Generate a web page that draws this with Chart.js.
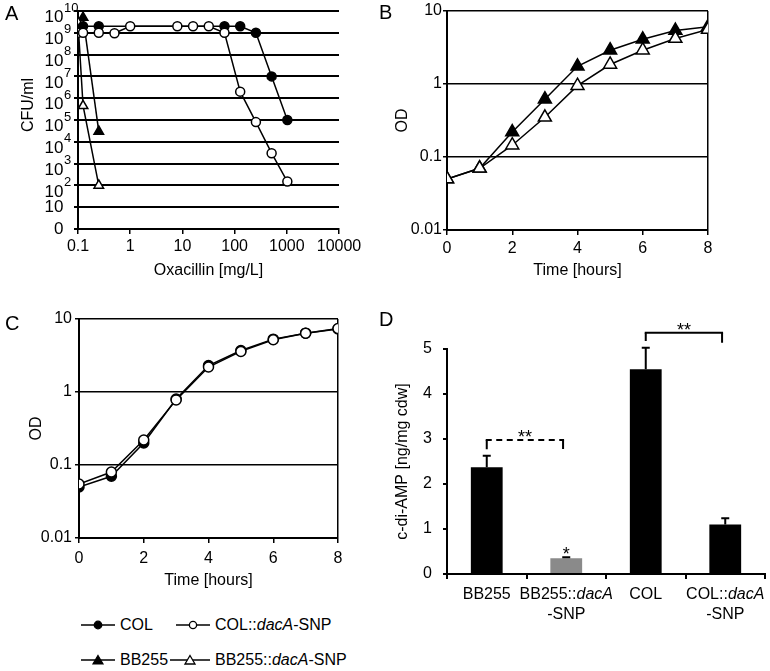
<!DOCTYPE html>
<html><head><meta charset="utf-8">
<script src="https://cdn.jsdelivr.net/npm/chart.js@4.4.1/dist/chart.umd.min.js"></script>
<style>
html,body{margin:0;padding:0;background:#fff;}
#wrap{position:relative;width:770px;height:671px;background:#fff;overflow:hidden;font-family:"Liberation Sans",Arial,sans-serif;color:#000;}
canvas{position:absolute;}
.pl{position:absolute;font-size:20px;line-height:20px;}
.leg{position:absolute;font-size:16px;line-height:20px;white-space:nowrap;}
.sym{position:absolute;}
</style></head><body>
<div id="wrap">
<canvas id="cA" width="380" height="300" style="left:0;top:0;width:380px;height:300px"></canvas>
<canvas id="cB" width="390" height="300" style="left:380px;top:0;width:390px;height:300px"></canvas>
<canvas id="cC" width="380" height="300" style="left:0;top:300px;width:380px;height:300px"></canvas>
<canvas id="cD" width="390" height="340" style="left:380px;top:300px;width:390px;height:340px"></canvas>
<div class="pl" style="left:5px;top:3px">A</div>
<div class="pl" style="left:379px;top:2px">B</div>
<div class="pl" style="left:5px;top:313px">C</div>
<div class="pl" style="left:379px;top:309px">D</div>

<svg class="sym" style="left:81px;top:615px" width="34" height="20"><line x1="0" y1="10" x2="34" y2="10" stroke="#000" stroke-width="1.5"/><circle cx="17" cy="10" r="3.8" fill="#000" stroke="#000" stroke-width="1.2"/></svg>
<div class="leg" style="left:120px;top:615px">COL</div>
<svg class="sym" style="left:176px;top:615px" width="34" height="20"><line x1="0" y1="10" x2="34" y2="10" stroke="#000" stroke-width="1.5"/><circle cx="17" cy="10" r="3.6" fill="#fff" stroke="#000" stroke-width="1.3"/></svg>
<div class="leg" style="left:215px;top:615px">COL::<i>dacA</i>-SNP</div>
<svg class="sym" style="left:81px;top:650px" width="34" height="20"><line x1="0" y1="10" x2="34" y2="10" stroke="#000" stroke-width="1.5"/><polygon points="17,5.5 22,14 12,14" fill="#000" stroke="#000" stroke-width="1.2"/></svg>
<div class="leg" style="left:120px;top:650px">BB255</div>
<svg class="sym" style="left:170px;top:650px" width="40" height="20"><line x1="0" y1="10" x2="40" y2="10" stroke="#000" stroke-width="1.5"/><polygon points="20,5.5 25,14 15,14" fill="#fff" stroke="#000" stroke-width="1.3"/></svg>
<div class="leg" style="left:215px;top:650px">BB255::<i>dacA</i>-SNP</div>
</div>
<script>
// ---------- DATA ----------
// Panel A: survival vs oxacillin concentration
const concA_COL      = [0.125, 0.25, 64, 128, 256, 512, 1024];
const cfuA_COL       = [2e9, 2e9, 2e9, 2e9, 1e9, 1e7, 1e5];
const concA_COLsnp   = [0.1, 0.125, 0.25, 0.5, 1, 8, 16, 32, 64, 128, 256, 512, 1024];
const cfuA_COLsnp    = [1e9, 1e9, 1e9, 0.95e9, 2e9, 2e9, 2e9, 2e9, 1e9, 2e6, 8e4, 3e3, 150];
const concA_BB255    = [0.125, 0.25];
const cfuA_BB255     = [5e9, 3e4];
const concA_BBsnp    = [0.1, 0.125, 0.25];
const cfuA_BBsnp     = [3e9, 4.5e5, 100];
const xTicksA        = [0.1, 1, 10, 100, 1000, 10000];
const yTicksA        = [1, 1e1, 1e2, 1e3, 1e4, 1e5, 1e6, 1e7, 1e8, 1e9, 1e10];
const yTickBaseA     = ['0', '10', '10', '10', '10', '10', '10', '10', '10', '10', '10'];
const yTickExpA      = ['', '', '2', '3', '4', '5', '6', '7', '8', '9', '10'];
// Panel B: growth of BB255 strains
const timeB          = [0, 1, 2, 3, 4, 5, 6, 7, 8];
const odB_BB255      = [0.05, 0.07, 0.22, 0.62, 1.75, 2.9, 4.1, 5.4, 6.1];
const odB_BBsnp      = [0.05, 0.07, 0.145, 0.35, 0.95, 1.85, 2.9, 4.2, 5.6];
// Panel C: growth of COL strains
const timeC          = [0, 1, 2, 3, 4, 5, 6, 7, 8];
const odC_COL        = [0.05, 0.07, 0.2, 0.8, 2.3, 3.7, 5.3, 6.4, 7.3];
const odC_COLsnp     = [0.055, 0.08, 0.22, 0.78, 2.2, 3.6, 5.2, 6.4, 7.4];
const odTicks        = [0.01, 0.1, 1, 10];
// Panel D: c-di-AMP levels
const categoriesD    = ['BB255', 'BB255::dacA-SNP', 'COL', 'COL::dacA-SNP'];
const labelLinesD    = [['BB255'], ['BB255::_dacA_', '-SNP'], ['COL'], ['COL::_dacA_', '-SNP']];
const valuesD        = [2.37, 0.35, 4.55, 1.10];
const errorsD        = [0.26, 0.02, 0.48, 0.14];
const barColorsD     = ['#000000', '#8a8a8a', '#000000', '#000000'];
const bracketsD      = [
  {from: 0, to: 0.96, top: 2.98, legL: 2.77, legR: 2.78, dashed: true,  text: '**'},
  {from: 2, to: 2.96, top: 5.36, legL: 5.18, legR: 5.14, dashed: false, text: '**'}
];
const starsD         = [{cat: 1, text: '*'}];

// ---------- SETUP ----------
const FF = '"Liberation Sans", Arial, sans-serif';
Chart.defaults.font.family = FF;
Chart.defaults.font.size = 16;
Chart.defaults.color = '#000';

function pts(xs, ys){ return xs.map((x,i)=>({x:x, y:ys[i]})); }
function ds(label, xs, ys, style, fill, r, order){
  return {label, data: pts(xs, ys), showLine: true, borderColor: '#000', borderWidth: 1.5,
    pointStyle: style, pointRadius: r, pointBackgroundColor: fill, pointBorderColor: '#000',
    pointBorderWidth: 1.5, tension: 0, order, fill: false};
}
const base = {responsive:false, animation:false, events:[],
  plugins:{legend:{display:false}, tooltip:{enabled:false}}};

// ---------- PANEL A ----------
const pluginA = {
  id:'aLabels',
  afterDraw(chart){
    const ctx = chart.ctx, y = chart.scales.y;
    ctx.save(); ctx.fillStyle = '#000';
    yTicksA.forEach((v,i)=>{
      const py = y.getPixelForValue(v);
      ctx.font = '17px ' + FF; ctx.textAlign = 'right'; ctx.textBaseline = 'middle';
      if (yTickExpA[i]) {
        ctx.fillText(yTickBaseA[i], 63.5, py + 6.5);
        ctx.font = '13px ' + FF; ctx.textAlign = 'left';
        ctx.fillText(yTickExpA[i], 64, py - 3);
      } else {
        ctx.fillText(yTickBaseA[i], 63.5, py);
      }
    });
    ctx.translate(28.5, 105); ctx.rotate(-Math.PI/2);
    ctx.font = '16px ' + FF; ctx.textAlign = 'center'; ctx.textBaseline = 'middle';
    ctx.fillText('CFU/ml', 0, 0);
    ctx.restore();
  }
};
new Chart(document.getElementById('cA'), {
  type:'line',
  data:{datasets:[
    ds('COL::dacA-SNP', concA_COLsnp, cfuA_COLsnp, 'circle', '#fff', 4.5, 0),
    ds('COL', concA_COL, cfuA_COL, 'circle', '#000', 4.5, 1),
    ds('BB255::dacA-SNP', concA_BBsnp, cfuA_BBsnp, 'triangle', '#fff', 5.5, 2),
    ds('BB255', concA_BB255, cfuA_BB255, 'triangle', '#000', 5.5, 3)
  ]},
  options:Object.assign({}, base, {
    layout:{padding:{left:0, top:11, right:41, bottom:0}, autoPadding:false},
    scales:{
      x:{type:'logarithmic', min:0.1, max:10000,
        afterBuildTicks:s=>{s.ticks = xTicksA.map(v=>({value:v}));},
        ticks:{callback:v=>String(v), padding:3, autoSkip:false, maxRotation:0},
        grid:{drawOnChartArea:false, drawTicks:true, tickLength:5, color:'#000', lineWidth:1.5},
        border:{display:true, color:'#000', width:2},
        title:{display:true, text:'Oxacillin [mg/L]', padding:{top:4, bottom:20}},
        afterFit:s=>{s.height = 71;}},
      y:{type:'logarithmic', min:1, max:1e10,
        afterBuildTicks:s=>{s.ticks = yTicksA.map(v=>({value:v}));},
        ticks:{display:false},
        grid:{color:'#000', lineWidth:2, drawTicks:true, tickLength:4},
        border:{display:true, color:'#000', width:2},
        afterFit:s=>{s.width = 78;}}
    }
  }),
  plugins:[pluginA]
});

// ---------- PANELS B & C ----------
function growthScales(yW, yPad, yTitlePad, xH, xPad, xTitlePadB){
  return {
    x:{type:'linear', min:0, max:8, ticks:{stepSize:2, padding:xPad, maxRotation:0},
      grid:{color:c=> (c.tick && c.tick.value === 8) ? '#000' : 'rgba(0,0,0,0)', tickColor:'#000',
        lineWidth:1.5, drawTicks:true, tickLength:5},
      border:{display:true, color:'#000', width:2},
      title:{display:true, text:'Time [hours]', padding:{top:4, bottom:xTitlePadB}},
      afterFit:s=>{s.height = xH;}},
    y:{type:'logarithmic', min:0.01, max:10,
      afterBuildTicks:s=>{s.ticks = odTicks.map(v=>({value:v}));},
      ticks:{callback:v=>String(v), padding:yPad},
      grid:{color:'#000', lineWidth:1.5, drawTicks:true, tickLength:4},
      border:{display:true, color:'#000', width:2},
      title:{display:true, text:'OD', padding:{top:yTitlePad, bottom:4}},
      afterFit:s=>{s.width = yW;}}
  };
}
new Chart(document.getElementById('cB'), {
  type:'line',
  data:{datasets:[
    ds('BB255::dacA-SNP', timeB, odB_BBsnp, 'triangle', '#fff', 7.5, 0),
    ds('BB255', timeB, odB_BB255, 'triangle', '#000', 7.5, 1)
  ]},
  options:Object.assign({}, base, {
    layout:{padding:{left:0, top:11, right:62, bottom:0}, autoPadding:false},
    scales:growthScales(67, 1, 13, 70, 4, 20)
  })
});
new Chart(document.getElementById('cC'), {
  type:'line',
  data:{datasets:[
    ds('COL::dacA-SNP', timeC, odC_COLsnp, 'circle', '#fff', 5, 0),
    ds('COL', timeC, odC_COL, 'circle', '#000', 5, 1)
  ]},
  options:Object.assign({}, base, {
    layout:{padding:{left:0, top:19, right:42, bottom:0}, autoPadding:false},
    scales:growthScales(79, 3, 27, 62, 6, 10)
  })
});

// ---------- PANEL D ----------
const pluginD = {
  id:'dExtras',
  afterDatasetsDraw(chart){
    const ctx = chart.ctx, xs = chart.scales.x, ys = chart.scales.y;
    ctx.save();
    ctx.strokeStyle = '#000'; ctx.fillStyle = '#000'; ctx.lineWidth = 2;
    // error bars (upper only)
    valuesD.forEach((v,i)=>{
      const cx = xs.getPixelForValue(i), y0 = ys.getPixelForValue(v), y1 = ys.getPixelForValue(v + errorsD[i]);
      ctx.beginPath(); ctx.moveTo(cx, y0); ctx.lineTo(cx, y1);
      ctx.moveTo(cx - 4, y1); ctx.lineTo(cx + 4, y1); ctx.stroke();
    });
    // significance brackets
    bracketsD.forEach(b=>{
      const x1 = xs.getPixelForValue(b.from), x2 = xs.getPixelForValue(b.to);
      const yt = ys.getPixelForValue(b.top), yl = ys.getPixelForValue(b.legL), yr = ys.getPixelForValue(b.legR);
      ctx.setLineDash([]);
      ctx.beginPath(); ctx.moveTo(x1, yl); ctx.lineTo(x1, yt); ctx.moveTo(x2, yt); ctx.lineTo(x2, yr); ctx.stroke();
      ctx.setLineDash(b.dashed ? [6, 4.5] : []);
      ctx.beginPath(); ctx.moveTo(x1 - 1, yt); ctx.lineTo(x2 + 1, yt); ctx.stroke();
      ctx.setLineDash([]);
      ctx.font = '18px ' + FF; ctx.textAlign = 'center'; ctx.textBaseline = 'alphabetic';
      ctx.fillText(b.text, (x1 + x2) / 2, yt + 3);
    });
    starsD.forEach(s=>{
      const cx = xs.getPixelForValue(s.cat), yv = ys.getPixelForValue(valuesD[s.cat] + errorsD[s.cat]);
      ctx.font = '18px ' + FF; ctx.textAlign = 'center'; ctx.textBaseline = 'alphabetic';
      ctx.fillText(s.text, cx, yv + 3);
    });
    // category labels with italic gene name
    ctx.textBaseline = 'middle'; ctx.textAlign = 'left';
    labelLinesD.forEach((lines, i)=>{
      const cx = xs.getPixelForValue(i);
      lines.forEach((line, k)=>{
        const segs = line.split('_').map((t, j)=>({t, it: j % 2 === 1})).filter(s=>s.t);
        let w = 0;
        segs.forEach(s=>{ ctx.font = (s.it ? 'italic ' : '') + '16px ' + FF; s.w = ctx.measureText(s.t).width; w += s.w; });
        let x = cx - w / 2; const y = xs.top + 21 + k * 20;
        segs.forEach(s=>{ ctx.font = (s.it ? 'italic ' : '') + '16px ' + FF; ctx.fillText(s.t, x, y); x += s.w; });
      });
    });
    ctx.restore();
  }
};
new Chart(document.getElementById('cD'), {
  type:'bar',
  data:{labels:categoriesD, datasets:[{data:valuesD, backgroundColor:barColorsD, borderWidth:0,
    barPercentage:0.4, categoryPercentage:1.0}]},
  options:Object.assign({}, base, {
    layout:{padding:{left:0, top:49, right:5, bottom:0}, autoPadding:false},
    scales:{
      x:{type:'category', offset:true, ticks:{display:false},
        grid:{offset:true, drawOnChartArea:false, drawTicks:true, tickLength:5, color:'#000', lineWidth:2},
        border:{display:true, color:'#000', width:2},
        afterFit:s=>{s.height = 66;}},
      y:{min:0, max:5, ticks:{stepSize:1, padding:11},
        grid:{drawOnChartArea:false, drawTicks:true, tickLength:4, color:'#000', lineWidth:2},
        border:{display:true, color:'#000', width:2},
        title:{display:true, text:'c-di-AMP [ng/mg cdw]', padding:{top:13, bottom:4}},
        afterFit:s=>{s.width = 67;}}
    }
  }),
  plugins:[pluginD]
});
</script>
</body></html>
